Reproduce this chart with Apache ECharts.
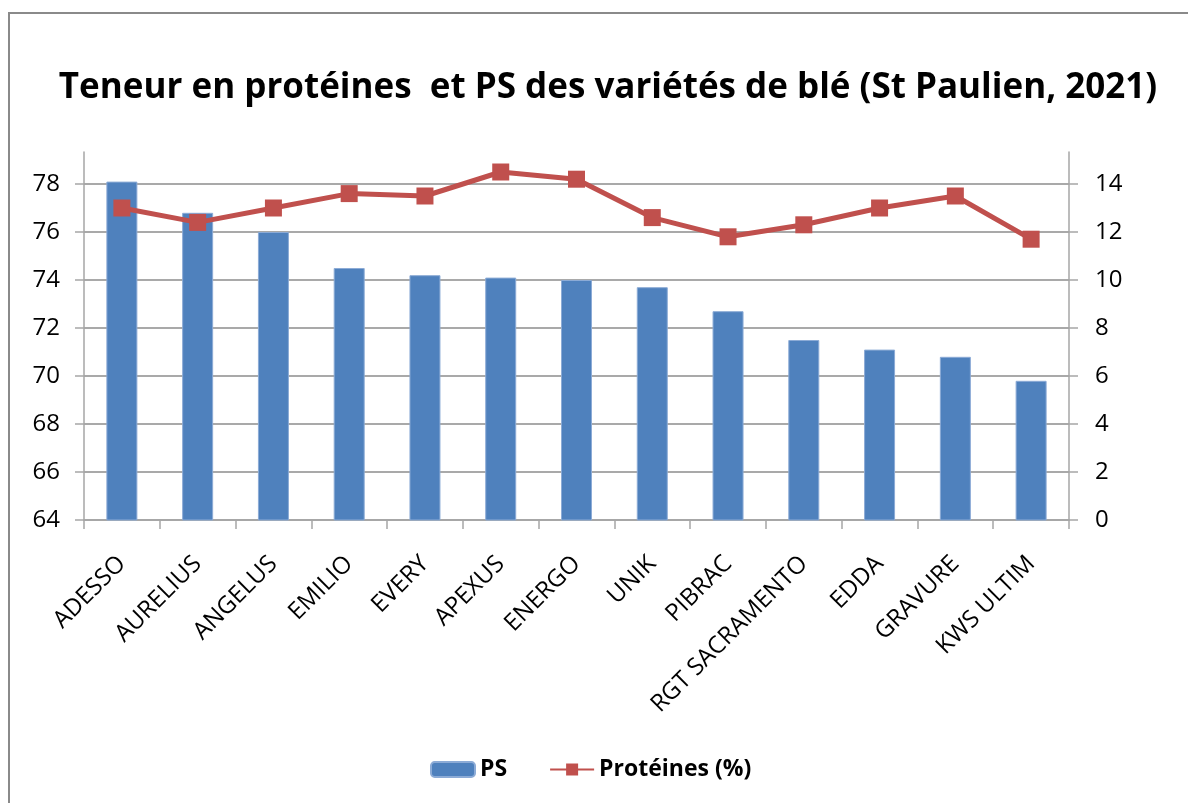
<!DOCTYPE html>
<html>
<head>
<meta charset="utf-8">
<script src="https://cdn.jsdelivr.net/npm/echarts@6/dist/echarts.min.js"></script>
<style>
  html, body { margin: 0; padding: 0; background: #fff; }
  #main { width: 1188px; height: 803px; }
</style>
</head>
<body>
<div id="main"></div>
<script>
// variétés (axe des catégories)
const categories = ['ADESSO', 'AURELIUS', 'ANGELUS', 'EMILIO', 'EVERY', 'APEXUS', 'ENERGO',
    'UNIK', 'PIBRAC', 'RGT SACRAMENTO', 'EDDA', 'GRAVURE', 'KWS ULTIM'];
// PS (poids spécifique) - axe gauche
const psValues = [78.1, 76.8, 76.0, 74.5, 74.2, 74.1, 74.0, 73.7, 72.7, 71.5, 71.1, 70.8, 69.8];
// teneur en protéines (%) - axe droit
const proteinValues = [13.0, 12.4, 13.0, 13.6, 13.5, 14.5, 14.2, 12.6, 11.8, 12.3, 13.0, 13.5, 11.7];

const font = "'Open Sans', sans-serif";
const gridColor = '#8c8c8c';
const axisColor = '#a6a6a6';

const chart = echarts.init(document.getElementById('main'));
const option = {
    animation: false,
    textStyle: { fontFamily: font },
    graphic: [{
        type: 'rect',
        shape: { x: 9, y: 13, width: 1400, height: 1000 },
        style: { fill: 'none', stroke: '#8a8a8a', lineWidth: 2 },
        silent: true
    }],
    title: {
        text: 'Teneur en protéines  et PS des variétés de blé (St Paulien, 2021)',
        left: 603,
        textAlign: 'center',
        top: 66,
        textStyle: { fontFamily: font, fontSize: 35, fontWeight: 'bold', color: '#000' }
    },
    legend: {
        left: 425,
        top: 753,
        itemGap: 42,
        itemWidth: 44,
        itemHeight: 15,
        textStyle: { fontFamily: font, fontSize: 23, fontWeight: 'bold', color: '#000' },
        data: ['PS', 'Protéines (%)']
    },
    grid: {
        left: 84,
        right: 119,
        top: 152,
        bottom: 283,
        containLabel: false
    },
    xAxis: {
        type: 'category',
        data: categories,
        boundaryGap: true,
        axisLine: { show: true, lineStyle: { color: axisColor, width: 1.5 } },
        axisTick: { show: true, interval: 0, length: 9, lineStyle: { color: axisColor, width: 1.5 } },
        axisLabel: {
            interval: 0,
            rotate: 45,
            margin: 40,
            fontSize: 24,
            color: '#000',
            fontFamily: font
        },
        splitLine: { show: false }
    },
    yAxis: [{
        type: 'value',
        min: 64,
        max: 64 + 46 / 3,
        interval: 2,
        position: 'left',
        axisLine: { show: true, lineStyle: { color: axisColor, width: 1.5 } },
        axisTick: { show: true, length: 9, lineStyle: { color: axisColor, width: 1.5 } },
        axisLabel: { margin: 24, fontSize: 24, color: '#000', fontFamily: font, showMaxLabel: false },
        splitLine: { show: true, showMaxLine: false, lineStyle: { color: gridColor, width: 1.5 } }
    }, {
        type: 'value',
        min: 0,
        max: 46 / 3,
        interval: 2,
        position: 'right',
        axisLine: { show: true, lineStyle: { color: axisColor, width: 1.5 } },
        axisTick: { show: true, length: 9, lineStyle: { color: axisColor, width: 1.5 } },
        axisLabel: { margin: 26, fontSize: 24, color: '#000', fontFamily: font, showMaxLabel: false },
        splitLine: { show: false }
    }],
    series: [{
        name: 'PS',
        type: 'bar',
        yAxisIndex: 0,
        barWidth: 31,
        data: psValues,
        itemStyle: { color: '#4F81BD', borderColor: '#8cabd6', borderWidth: 1 }
    }, {
        name: 'Protéines (%)',
        type: 'line',
        yAxisIndex: 1,
        data: proteinValues,
        symbol: 'rect',
        symbolSize: 17,
        lineStyle: { color: '#C0504D', width: 5 },
        itemStyle: { color: '#C0504D' },
        z: 5
    }]
};
chart.setOption(option);
window.addEventListener('resize', function () {
    chart.resize();
});
</script>
</body>
</html>
